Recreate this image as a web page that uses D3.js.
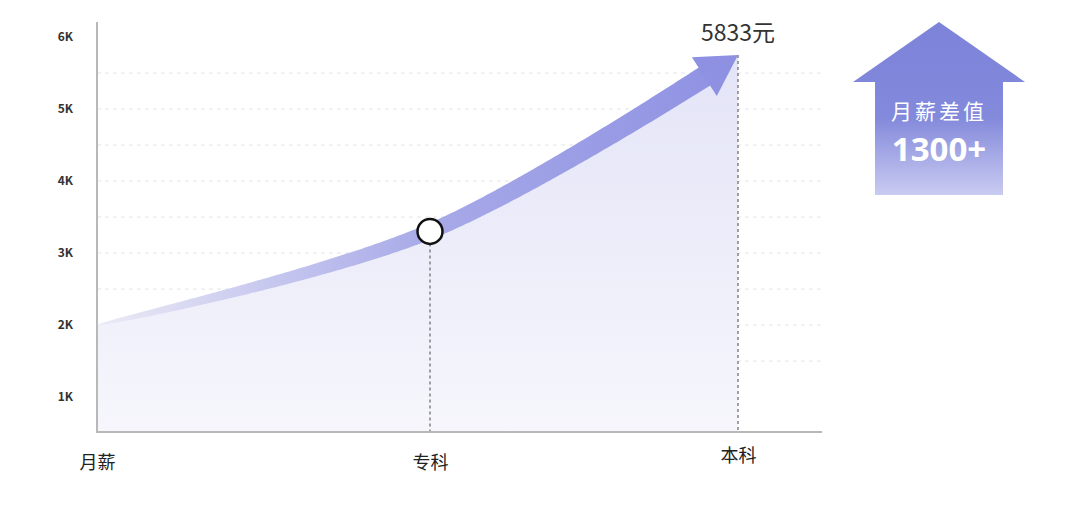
<!DOCTYPE html>
<html><head><meta charset="utf-8">
<script src="https://cdn.jsdelivr.net/npm/d3@7"></script>
<style>
html,body{margin:0;padding:0;background:#fff;}
svg{display:block;font-family:"Noto Sans CJK SC","Noto Sans",sans-serif;}
</style></head>
<body><svg id="c" width="1080" height="511"></svg>
<script>
const categories = ["月薪", "专科", "本科"];
const salaries = [2000, 3300, 5750];
const yTicks = [1000, 2000, 3000, 4000, 5000, 6000];
const gridValues = [1500, 2000, 2500, 3000, 3500, 4000, 4500, 5000, 5500];
const endLabel = "5833元";
const badgeTitle = "月薪差值";
const badgeValue = "1300+";

const svg = d3.select("#c");
const x = d3.scaleOrdinal().domain(categories).range([97, 430, 738]);
const y = d3.scaleLinear().domain([1000, 6000]).range([397, 37]);
const yBottom = 432, yTop = 22, xRight = 822;

const defs = svg.append("defs");
const ag = defs.append("linearGradient").attr("id","areaG").attr("x1",0).attr("y1",0).attr("x2",0).attr("y2",1);
ag.append("stop").attr("offset","0%").attr("stop-color","#e3e4f7");
ag.append("stop").attr("offset","100%").attr("stop-color","#f6f6fc");
const bg = defs.append("linearGradient").attr("id","bandG").attr("gradientUnits","userSpaceOnUse")
  .attr("x1",97).attr("y1",0).attr("x2",738).attr("y2",0);
bg.append("stop").attr("offset","0%").attr("stop-color","#ebebf6");
bg.append("stop").attr("offset","25%").attr("stop-color","#c9caef");
bg.append("stop").attr("offset","52%").attr("stop-color","#a7a9e8");
bg.append("stop").attr("offset","100%").attr("stop-color","#8e91e2");
const hg = defs.append("linearGradient").attr("id","houseG").attr("x1",0).attr("y1",0).attr("x2",0).attr("y2",1);
hg.append("stop").attr("offset","0%").attr("stop-color","#7c83d9");
hg.append("stop").attr("offset","55%").attr("stop-color","#8389db");
hg.append("stop").attr("offset","100%").attr("stop-color","#c9cbf1");

// gridlines
svg.append("g").selectAll("line").data(gridValues).join("line")
  .attr("x1",97).attr("x2",xRight).attr("y1",d=>y(d)).attr("y2",d=>y(d))
  .attr("stroke","#e4e4e8").attr("stroke-width",1).attr("stroke-dasharray","4,4");

const pts = categories.map((c,i)=>[x(c), y(salaries[i])]);
// area
const area = d3.area().x(d=>d[0]).y0(yBottom).y1(d=>d[1]).curve(d3.curveCatmullRom.alpha(0.5));
svg.append("path").attr("d", area(pts)).attr("fill","url(#areaG)");

// dashed drop lines
svg.append("g").selectAll("line").data(pts.slice(1)).join("line")
  .attr("x1",d=>d[0]).attr("x2",d=>d[0]).attr("y1",d=>d[1]).attr("y2",yBottom)
  .attr("stroke","#666").attr("stroke-width",1.2).attr("stroke-dasharray","3,3");

// axes lines
svg.append("line").attr("x1",97).attr("x2",97).attr("y1",yTop).attr("y2",yBottom).attr("stroke","#b8b8b8").attr("stroke-width",2);
svg.append("line").attr("x1",96).attr("x2",xRight).attr("y1",yBottom).attr("y2",yBottom).attr("stroke","#b8b8b8").attr("stroke-width",2);

// curve path for band
const line = d3.line().curve(d3.curveCatmullRom.alpha(0.5));
const hidden = svg.append("path").attr("d", line(pts)).attr("fill","none").attr("stroke","none");
const node = hidden.node();
const L = node.getTotalLength();
const headLen = 40, headW = 46, maxW = 22;
const bodyEnd = L - headLen + 4;
const N = 200, upper = [], lower = [];
for (let i=0;i<=N;i++){
  const s = bodyEnd*i/N;
  const p = node.getPointAtLength(s);
  const p2 = node.getPointAtLength(Math.min(L, s+0.5));
  const p1 = node.getPointAtLength(Math.max(0, s-0.5));
  let dx = p2.x-p1.x, dy = p2.y-p1.y; const m = Math.hypot(dx,dy)||1; dx/=m; dy/=m;
  const w = maxW*Math.pow(s/L, 0.5)/2;
  upper.push([p.x + dy*w, p.y - dx*w]);
  lower.push([p.x - dy*w, p.y + dx*w]);
}
const band = upper.concat(lower.reverse());
svg.append("path").attr("d","M"+band.map(p=>p.join(",")).join("L")+"Z").attr("fill","url(#bandG)");
// arrow head
{
  const b = node.getPointAtLength(L-headLen);
  const t = node.getPointAtLength(L);
  let dx = t.x-b.x, dy = t.y-b.y; const m=Math.hypot(dx,dy); dx/=m; dy/=m;
  const h = headW/2;
  const tri = [[t.x,t.y],[b.x+dy*h,b.y-dx*h],[b.x-dy*h,b.y+dx*h]];
  svg.append("path").attr("d","M"+tri.map(p=>p.join(",")).join("L")+"Z").attr("fill","#8e91e2");
}

// circle at middle
svg.append("circle").attr("cx",pts[1][0]).attr("cy",pts[1][1]).attr("r",12.5)
  .attr("fill","#fff").attr("stroke","#111").attr("stroke-width",2.5);

// y axis labels
const yAxis = svg.append("g").attr("transform","translate(97,0)")
  .call(d3.axisLeft(y).tickValues(yTicks).tickSize(0).tickPadding(24).tickFormat(d=>d/1000+"K"));
yAxis.select(".domain").remove();
yAxis.selectAll("text").attr("font-size",12).attr("font-weight","bold").attr("fill","#333")
  .attr("font-family","'Noto Sans CJK SC',sans-serif");

// x axis labels
const xAxis = svg.append("g").attr("transform","translate(0,"+yBottom+")")
  .call(d3.axisBottom(x).tickSize(0).tickPadding(19));
xAxis.select(".domain").remove();
xAxis.selectAll("text").attr("font-size",18).attr("fill","#222")
  .attr("font-family","'Noto Sans CJK SC',sans-serif")
  .attr("dy",(d,i)=> i===2 ? "0.62em" : "1.02em");

// end label
svg.append("text").attr("x",pts[2][0]).attr("y",41).attr("text-anchor","middle")
  .attr("font-size",23).attr("fill","#333").text(endLabel);

// house badge
const hx = 939, houseTop = 22, wingY = 82, wingL = 853, wingR = 1025, bodyL = 875, bodyR = 1003, bodyB = 195;
svg.append("path").attr("d",`M${hx},${houseTop}L${wingR},${wingY}L${bodyR},${wingY}L${bodyR},${bodyB}L${bodyL},${bodyB}L${bodyL},${wingY}L${wingL},${wingY}Z`)
  .attr("fill","url(#houseG)");
svg.append("text").attr("x",hx).attr("y",119).attr("text-anchor","middle").attr("font-size",21)
  .attr("letter-spacing",3).attr("fill","#fff").text(badgeTitle);
svg.append("text").attr("x",hx).attr("y",161).attr("text-anchor","middle").attr("font-size",33)
  .attr("font-family","'Noto Sans',sans-serif")
  .attr("font-weight","bold").attr("fill","#fff").text(badgeValue);
</script></body></html>
